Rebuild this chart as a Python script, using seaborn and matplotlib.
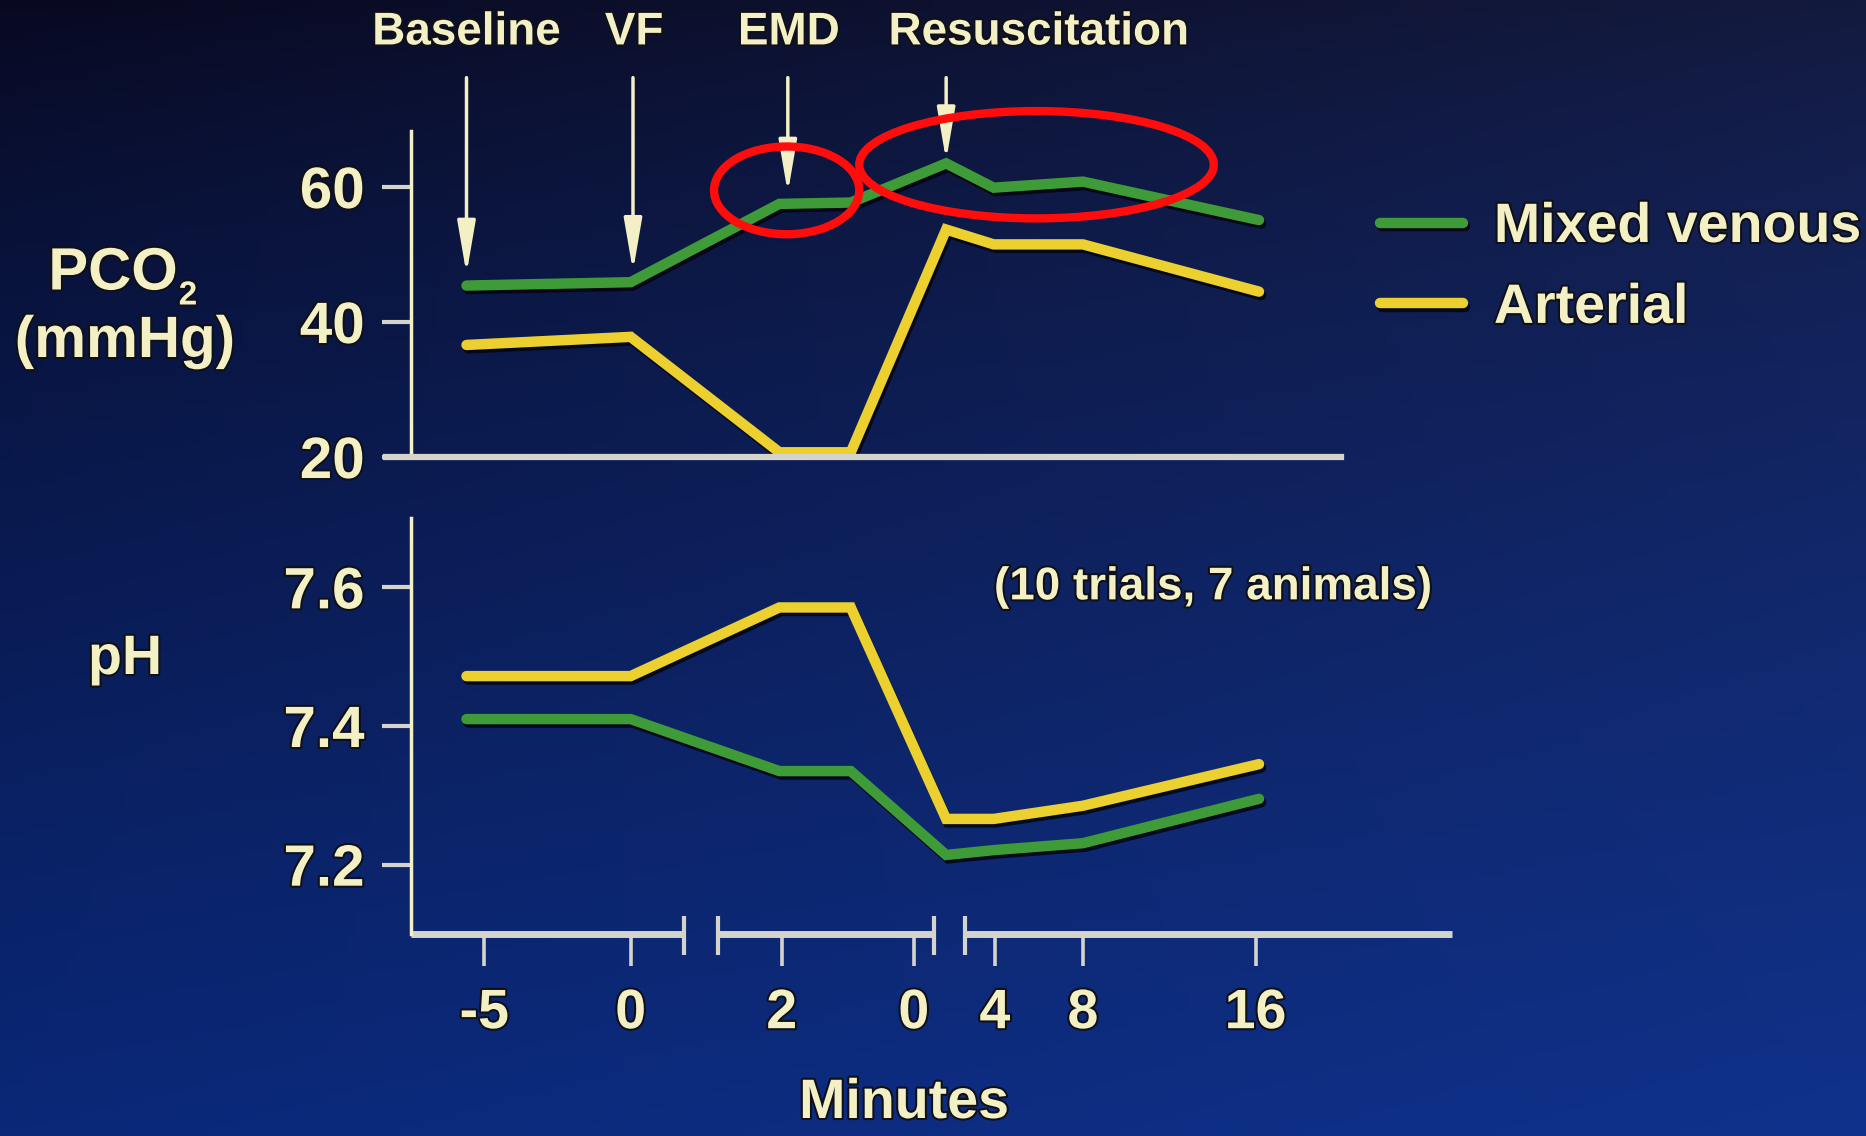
import numpy as np
import pandas as pd
import matplotlib
matplotlib.use("Agg")
import matplotlib.pyplot as plt
import matplotlib.patheffects as pe
from matplotlib.patches import Ellipse
import seaborn as sns

# position of each sample on the broken time axis (plot units)
sample_pos = [-5.63, 0.0, 5.10, 7.55, 10.82, 12.45, 15.51, 21.55]

pco2_venous = [45.4, 45.9, 57.5, 57.7, 63.5, 59.9, 60.8, 55.1]
pco2_arterial = [36.6, 37.8, 20.7, 20.7, 53.7, 51.5, 51.5, 44.5]
ph_venous = [7.41, 7.41, 7.335, 7.335, 7.214, 7.221, 7.231, 7.295]
ph_arterial = [7.472, 7.472, 7.571, 7.571, 7.266, 7.266, 7.285, 7.345]

series_names = ["Mixed venous", "Arterial"]

x_tick_pos = [-5.02, 0.0, 5.18, 9.71, 12.49, 15.51, 21.43]
x_tick_labels = ["-5", "0", "2", "0", "4", "8", "16"]
break_pos = [1.84, 2.98, 10.41, 11.47]
axis_segments = [(-7.55, 1.84), (2.98, 10.41), (11.47, 28.16)]

pco2_ticks = [20, 40, 60]
ph_ticks = [7.2, 7.4, 7.6]
ph_tick_labels = ["7.2", "7.4", "7.6"]

phase_labels = ["Baseline", "VF", "EMD", "Resuscitation"]
phase_arrow_x = [-5.63, 0.08, 5.39, 10.82]
phase_arrow_tip = [47.1, 47.5, 59.1, 63.9]
phase_label_x = [-5.63, 0.12, 5.43, 14.0]

W, H = 1866, 1136
CREAM = "#f3f0c6"
GRAY = "#d4d4cc"
GREEN = "#3e9b38"
YELLOW = "#ecd030"
palette = {"Mixed venous": GREEN, "Arterial": YELLOW}

sns.set_style("ticks")
plt.rcParams["font.family"] = ["Liberation Sans", "DejaVu Sans"]
plt.rcParams["font.weight"] = "bold"

outline = [pe.withStroke(linewidth=3, foreground="#101018")]
line_fx = [pe.SimpleLineShadow(offset=(1.5, -2.5), shadow_color="#05050f", alpha=0.85), pe.Normal()]


def fpos(x, y):
    return x / W, 1 - y / H


def long_frame(venous, arterial):
    return pd.DataFrame({
        "pos": sample_pos * 2,
        "value": venous + arterial,
        "sample": [series_names[0]] * len(venous) + [series_names[1]] * len(arterial),
    })


fig = plt.figure(figsize=(W / 100, H / 100), dpi=100)

# background gradient
bg = fig.add_axes([0, 0, 1, 1], zorder=-10)
tt = np.linspace(0, 1, 200)[:, None, None] ** 0.8
ss = np.linspace(0, 1, 300)[None, :, None]
tl = np.array([8, 9, 32]) / 255
tr = np.array([20, 26, 62]) / 255
bl = np.array([10, 40, 120]) / 255
br = np.array([16, 50, 140]) / 255
grad = (1 - tt) * ((1 - ss) * tl + ss * tr) + tt * ((1 - ss) * bl + ss * br)
bg.imshow(grad, aspect="auto", extent=[0, 1, 0, 1])
bg.axis("off")

ax_top = fig.add_axes([0.220, 0.5977, 0.558, 0.287])
ax_bot = fig.add_axes([0.220, 0.1778, 0.558, 0.3662])

for ax, df in [(ax_top, long_frame(pco2_venous, pco2_arterial)),
               (ax_bot, long_frame(ph_venous, ph_arterial))]:
    ax.set_facecolor("none")
    sns.lineplot(data=df, x="pos", y="value", hue="sample", hue_order=series_names,
                 palette=palette, lw=7.5, estimator=None, legend=False, ax=ax)
    for ln in ax.lines:
        ln.set_path_effects(line_fx)
        ln.set_solid_joinstyle("miter")
    ax.set_xlim(-7.55, 28.16)
    ax.set_xlabel("")
    ax.set_ylabel("")
    for side in ["top", "right"]:
        ax.spines[side].set_visible(False)
    ax.spines["left"].set_color(CREAM)
    ax.spines["left"].set_linewidth(2.5)
    ax.tick_params(axis="y", length=21, width=3, color=GRAY, pad=12,
                   labelsize=42, labelcolor=CREAM)

# top panel: PCO2
ax_top.set_ylim(20, 68.3)
ax_top.set_yticks(pco2_ticks)
ax_top.spines["bottom"].set_bounds(-8.4, 24.37)
ax_top.spines["bottom"].set_color(GRAY)
ax_top.spines["bottom"].set_linewidth(4.5)
ax_top.tick_params(axis="x", bottom=False, labelbottom=False)

for lab, ax_x, tip, lx in zip(phase_labels, phase_arrow_x, phase_arrow_tip, phase_label_x):
    ax_top.annotate("", xy=(ax_x, tip), xytext=(ax_x, 76.2), annotation_clip=False,
                    arrowprops=dict(arrowstyle="-|>,head_length=3.2,head_width=0.55",
                                    color=CREAM, lw=2.5, mutation_scale=10,
                                    shrinkA=0, shrinkB=0))
    ax_top.text(lx, 82.9, lab, ha="center", va="center", fontsize=33,
                fontweight="bold", color=CREAM, clip_on=False, path_effects=outline)

for (cx, cy), w, h in [((5.35, 59.5), 4.98, 13.0), ((13.92, 63.3), 12.16, 15.9)]:
    ax_top.add_patch(Ellipse((cx, cy), w, h, fill=False, ec="#ff0d0d", lw=6,
                             clip_on=False, zorder=10))

# bottom panel: pH
ax_bot.set_ylim(7.1, 7.7)
ax_bot.set_yticks(ph_ticks, ph_tick_labels)
ax_bot.spines["bottom"].set_visible(False)
ax_bot.set_xticks(x_tick_pos, x_tick_labels)
ax_bot.tick_params(axis="x", length=23, width=2.6, color=GRAY, pad=16,
                   labelsize=40, labelcolor=CREAM)
for a, b in axis_segments:
    ax_bot.plot([a, b], [7.1, 7.1], color=GRAY, lw=5, clip_on=False,
                solid_capstyle="butt")
ax_bot.vlines(break_pos, 7.070, 7.1265, colors=GRAY, lw=3, clip_on=False)
ax_bot.text(12.46, 7.6, "(10 trials, 7 animals)", ha="left", va="center",
            fontsize=33, fontweight="bold", color=CREAM, path_effects=outline)

for ax in (ax_top, ax_bot):
    for lbl in ax.get_xticklabels() + ax.get_yticklabels():
        lbl.set_fontweight("bold")
        lbl.set_path_effects(outline)

# axis titles
fig.text(*fpos(113, 274), "PCO", ha="center", va="center", fontsize=43,
         color=CREAM, path_effects=outline)
fig.text(*fpos(188, 296), "2", ha="center", va="center", fontsize=24,
         color=CREAM, path_effects=outline)
fig.text(*fpos(125, 342), "(mmHg)", ha="center", va="center", fontsize=42,
         color=CREAM, path_effects=outline)
fig.text(*fpos(125, 660), "pH", ha="center", va="center", fontsize=40,
         color=CREAM, path_effects=outline)
fig.text(*fpos(904, 1104), "Minutes", ha="center", va="center", fontsize=40,
         color=CREAM, path_effects=outline)

leg = fig.legend(ax_top.lines[:2], series_names, loc="upper left",
                 bbox_to_anchor=fpos(1380, 202), frameon=False, borderpad=0,
                 borderaxespad=0, handlelength=1.5, handletextpad=0.55,
                 labelspacing=0.52, prop=dict(size=40, weight="bold"),
                 labelcolor=CREAM)
for txt in leg.get_texts():
    txt.set_path_effects(outline)

fig.savefig("out.png", dpi=100, facecolor="#0a1c5a")
